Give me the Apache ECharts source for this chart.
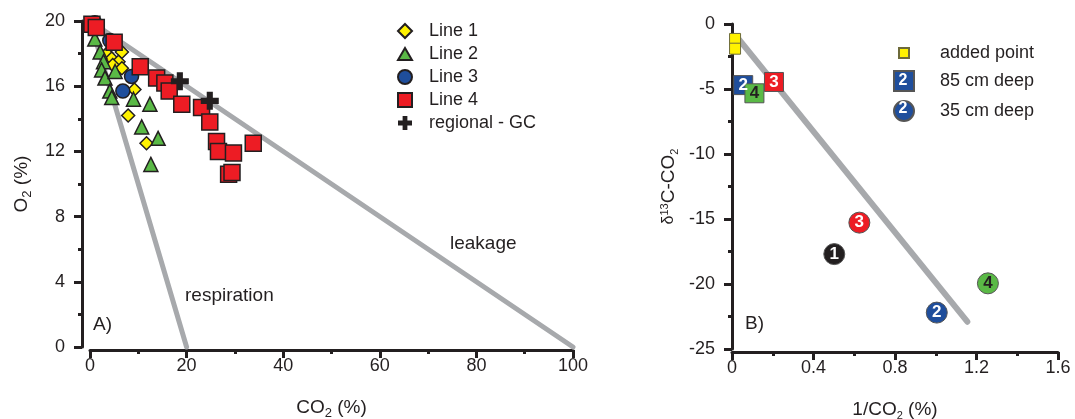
<!DOCTYPE html>
<html>
<head>
<meta charset="utf-8">
<script src="https://cdn.jsdelivr.net/npm/echarts@6/dist/echarts.min.js"></script>
<style>
  html, body { margin: 0; padding: 0; background: #fff; }
  #chart { width: 1075px; height: 419px; }
</style>
</head>
<body>
<div id="chart"></div>
<script>
// panel A: CO2 (%) against O2 (%)
const line1 = [[3.5, 18.0], [6.6, 18.1], [4.5, 17.7], [5.9, 17.5], [4.7, 17.3], [6.6, 17.1], [9.2, 15.8], [7.9, 14.2], [11.7, 12.5]];
const line2 = [[1.0, 18.9], [2.1, 18.1], [2.8, 17.5], [2.4, 17.0], [3.1, 16.5], [5.2, 16.9], [4.1, 15.7], [4.5, 15.3], [9.0, 15.2], [12.4, 14.9], [10.7, 13.5], [14.1, 12.8], [12.6, 11.2]];
const line3 = [[1.0, 19.9], [4.1, 18.8], [8.6, 16.6], [6.8, 15.7]];
const line4 = [[0.4, 19.8], [1.3, 19.6], [5.0, 18.7], [10.4, 17.2], [13.8, 16.5], [15.5, 16.2], [16.4, 15.7], [19.0, 14.9], [23.1, 14.7], [24.8, 13.8], [26.2, 12.6], [26.6, 12.0], [29.7, 11.9], [33.8, 12.5], [28.7, 10.6], [29.4, 10.7]];
const regionalGC = [[18.6, 16.3], [24.8, 15.1]];
const respirationLine = [[0, 20], [20, 0]];
const leakageLine = [[0, 20], [100, 0]];

// panel B: 1/CO2 against d13C-CO2, third value = site number
const addedPoint = [[0.015, -1.15], [0.015, -1.9]];
const deep85 = [[0.055, -4.7, 2], [0.11, -5.33, 4], [0.206, -4.46, 3]];
const deep35 = [[0.502, -17.7, 1], [0.625, -15.28, 3], [1.005, -22.2, 2], [1.256, -19.95, 4]];
const mixingLine = [[0.035, -1.2], [1.155, -22.9]];

const ink = '#231f20';
const gray = '#a7a9ac';
const font = '"Liberation Sans", Arial, sans-serif';
const siteColors = { 1: '#231f20', 2: '#1f4e9c', 3: '#ed1c24', 4: '#5ab946' };
const crossPath = 'path://M3.3,0H6.7V3.3H10V6.7H6.7V10H3.3V6.7H0V3.3H3.3Z';

function siteData(arr) {
  return arr.map(function (d) {
    return {
      value: d,
      itemStyle: { color: siteColors[d[2]] },
      label: { color: d[2] === 4 ? ink : '#fff' }
    };
  });
}

function axis(extra) {
  return Object.assign({
    type: 'value',
    nameLocation: 'middle',
    axisLine: { show: true, onZero: false, lineStyle: { color: ink, width: 3 } },
    axisTick: { show: true, length: 8, lineStyle: { color: ink, width: 3 } },
    minorTick: { show: true, splitNumber: 2, length: 4, lineStyle: { color: ink, width: 3 } },
    splitLine: { show: false },
    minorSplitLine: { show: false },
    axisLabel: { color: ink, fontSize: 18, fontFamily: font },
    nameTextStyle: { color: ink, fontFamily: font }
  }, extra);
}

const subRich = {
  n: { fontSize: 19, color: ink, fontFamily: font },
  s: { fontSize: 13, color: ink, fontFamily: font, padding: [11, 0, 0, 0] },
  d: { fontSize: 16, color: ink, fontFamily: font },
  u: { fontSize: 11, color: ink, fontFamily: font, padding: [0, 0, 9, 0] },
  ss: { fontSize: 11, color: ink, fontFamily: font, padding: [11, 0, 0, 0] }
};

const markBorder = { borderColor: ink, borderWidth: 1.5, opacity: 1 };

const mychart = echarts.init(document.getElementById('chart'));
mychart.setOption({
  animation: false,
  backgroundColor: '#fff',
  textStyle: { fontFamily: font },
  grid: [
    { left: 90, top: 21, width: 483, height: 326, outerBoundsMode: 'none', containLabel: false },
    { left: 732, top: 24, width: 326, height: 325, outerBoundsMode: 'none', containLabel: false }
  ],
  xAxis: [
    axis({
      gridIndex: 0, min: 0, max: 100, interval: 20, offset: 3,
      axisLabel: { color: ink, fontSize: 18, fontFamily: font, margin: 7 },
      name: '{n|CO}{s|2}{n| (%)}', nameGap: 46,
      nameTextStyle: { rich: subRich }
    }),
    axis({
      gridIndex: 1, min: 0, max: 1.6, interval: 0.4, offset: 3,
      axisLabel: { color: ink, fontSize: 18, fontFamily: font, margin: 7 },
      name: '{n|1/CO}{ss|2}{n| (%)}', nameGap: 47,
      nameTextStyle: { rich: subRich }
    })
  ],
  yAxis: [
    axis({
      gridIndex: 0, min: 0, max: 20, interval: 4, offset: 8,
      axisLabel: { color: ink, fontSize: 18, fontFamily: font, margin: 17 },
      name: '{n|O}{s|2}{n| (%)}', nameGap: 48,
      nameTextStyle: { rich: subRich }
    }),
    axis({
      gridIndex: 1, min: -25, max: 0, interval: 5,
      axisLabel: { color: ink, fontSize: 18, fontFamily: font, margin: 17 },
      name: '{d|δ}{u|13}{n|C-CO}{ss|2}', nameGap: 52,
      nameTextStyle: { rich: subRich }
    })
  ],
  legend: [
    {
      orient: 'vertical', left: 397, top: 22, padding: 0, itemWidth: 14, itemHeight: 14, itemGap: 5,
      textStyle: { color: ink, fontSize: 18, fontFamily: font, padding: [0, 0, 0, 12] },
      data: [
        { name: 'Line 1', icon: 'path://M5,0L10,5L5,10L0,5Z' },
        { name: 'Line 2', icon: 'path://M5,0L10,8.66L0,8.66Z' },
        { name: 'Line 3', icon: 'circle' },
        { name: 'Line 4', icon: 'path://M0,0H10V10H0Z' },
        { name: 'regional - GC', icon: crossPath }
      ]
    },
    {
      orient: 'vertical', left: 898, top: 44, padding: 0, itemWidth: 10, itemHeight: 10,
      textStyle: { color: ink, fontSize: 18, fontFamily: font, padding: [0, 0, 0, 26] },
      data: [{ name: 'added point', icon: 'path://M0,0H10V10H0Z' }]
    },
    {
      orient: 'vertical', left: 893, top: 70, padding: 0, itemWidth: 20, itemHeight: 20, itemGap: 8,
      textStyle: { color: ink, fontSize: 18, fontFamily: font, padding: [0, 0, 0, 21] },
      data: [
        { name: '85 cm deep', icon: 'path://M0,0H10V10H0Z' },
        { name: '35 cm deep', icon: 'circle' }
      ]
    }
  ],
  graphic: [
    { type: 'text', z: 100, style: { text: 'leakage', x: 450, y: 234, fill: ink, font: '19px ' + font } },
    { type: 'text', z: 100, style: { text: 'respiration', x: 185, y: 286, fill: ink, font: '19px ' + font } },
    { type: 'text', z: 100, style: { text: 'A)', x: 93, y: 315, fill: ink, font: '19px ' + font } },
    { type: 'text', z: 100, style: { text: 'B)', x: 745, y: 314, fill: ink, font: '19px ' + font } },
    { type: 'text', z: 100, style: { text: '2', x: 903, y: 81, align: 'center', verticalAlign: 'middle', fill: '#fff', font: 'bold 16px ' + font } },
    { type: 'text', z: 100, style: { text: '2', x: 903, y: 109, align: 'center', verticalAlign: 'middle', fill: '#fff', font: 'bold 16px ' + font } }
  ],
  series: [
    {
      name: 'respiration', type: 'line', xAxisIndex: 0, yAxisIndex: 0, data: respirationLine,
      symbol: 'none', silent: true, clip: false, z: 1,
      lineStyle: { color: gray, width: 5, cap: 'round', opacity: 1 }
    },
    {
      name: 'leakage', type: 'line', xAxisIndex: 0, yAxisIndex: 0, data: leakageLine,
      symbol: 'none', silent: true, clip: false, z: 1,
      lineStyle: { color: gray, width: 5, cap: 'round', opacity: 1 }
    },
    {
      name: 'Line 1', type: 'scatter', xAxisIndex: 0, yAxisIndex: 0, data: line1, clip: false,
      symbol: 'diamond', symbolSize: 13, itemStyle: Object.assign({ color: '#fff200' }, markBorder)
    },
    {
      name: 'Line 2', type: 'scatter', xAxisIndex: 0, yAxisIndex: 0, data: line2, clip: false,
      symbol: 'triangle', symbolSize: 14, itemStyle: Object.assign({ color: '#5ab946' }, markBorder)
    },
    {
      name: 'Line 3', type: 'scatter', xAxisIndex: 0, yAxisIndex: 0, data: line3, clip: false,
      symbol: 'circle', symbolSize: 14, itemStyle: Object.assign({ color: '#1f4e9c' }, markBorder)
    },
    {
      name: 'Line 4', type: 'scatter', xAxisIndex: 0, yAxisIndex: 0, data: line4, clip: false,
      symbol: 'rect', symbolSize: 16, itemStyle: Object.assign({ color: '#ed1c24' }, markBorder)
    },
    {
      name: 'regional - GC', type: 'scatter', xAxisIndex: 0, yAxisIndex: 0, data: regionalGC, clip: false,
      symbol: crossPath, symbolSize: 18, itemStyle: { color: ink, opacity: 1 }
    },
    {
      name: 'mixing', type: 'line', xAxisIndex: 1, yAxisIndex: 1, data: mixingLine,
      symbol: 'none', silent: true, clip: false, z: 1,
      lineStyle: { color: gray, width: 6, cap: 'round', opacity: 1 }
    },
    {
      name: 'added point', type: 'scatter', xAxisIndex: 1, yAxisIndex: 1, data: addedPoint, clip: false,
      symbol: 'rect', symbolSize: 11, itemStyle: { color: '#fff200', borderColor: '#6d6a3a', borderWidth: 1, opacity: 1 }
    },
    {
      name: '85 cm deep', type: 'scatter', xAxisIndex: 1, yAxisIndex: 1, data: siteData(deep85), clip: false,
      symbol: 'rect', symbolSize: 19, itemStyle: { color: '#1f4e9c', borderColor: '#555', borderWidth: 1, opacity: 1 },
      label: {
        show: true, position: 'inside', fontSize: 17, fontWeight: 'bold', fontFamily: font,
        formatter: function (p) { return p.value[2]; }
      }
    },
    {
      name: '35 cm deep', type: 'scatter', xAxisIndex: 1, yAxisIndex: 1, data: siteData(deep35), clip: false,
      symbol: 'circle', symbolSize: 21, itemStyle: { color: '#1f4e9c', borderColor: '#555', borderWidth: 1, opacity: 1 },
      label: {
        show: true, position: 'inside', fontSize: 17, fontWeight: 'bold', fontFamily: font,
        formatter: function (p) { return p.value[2]; }
      }
    }
  ]
});
</script>
</body>
</html>
